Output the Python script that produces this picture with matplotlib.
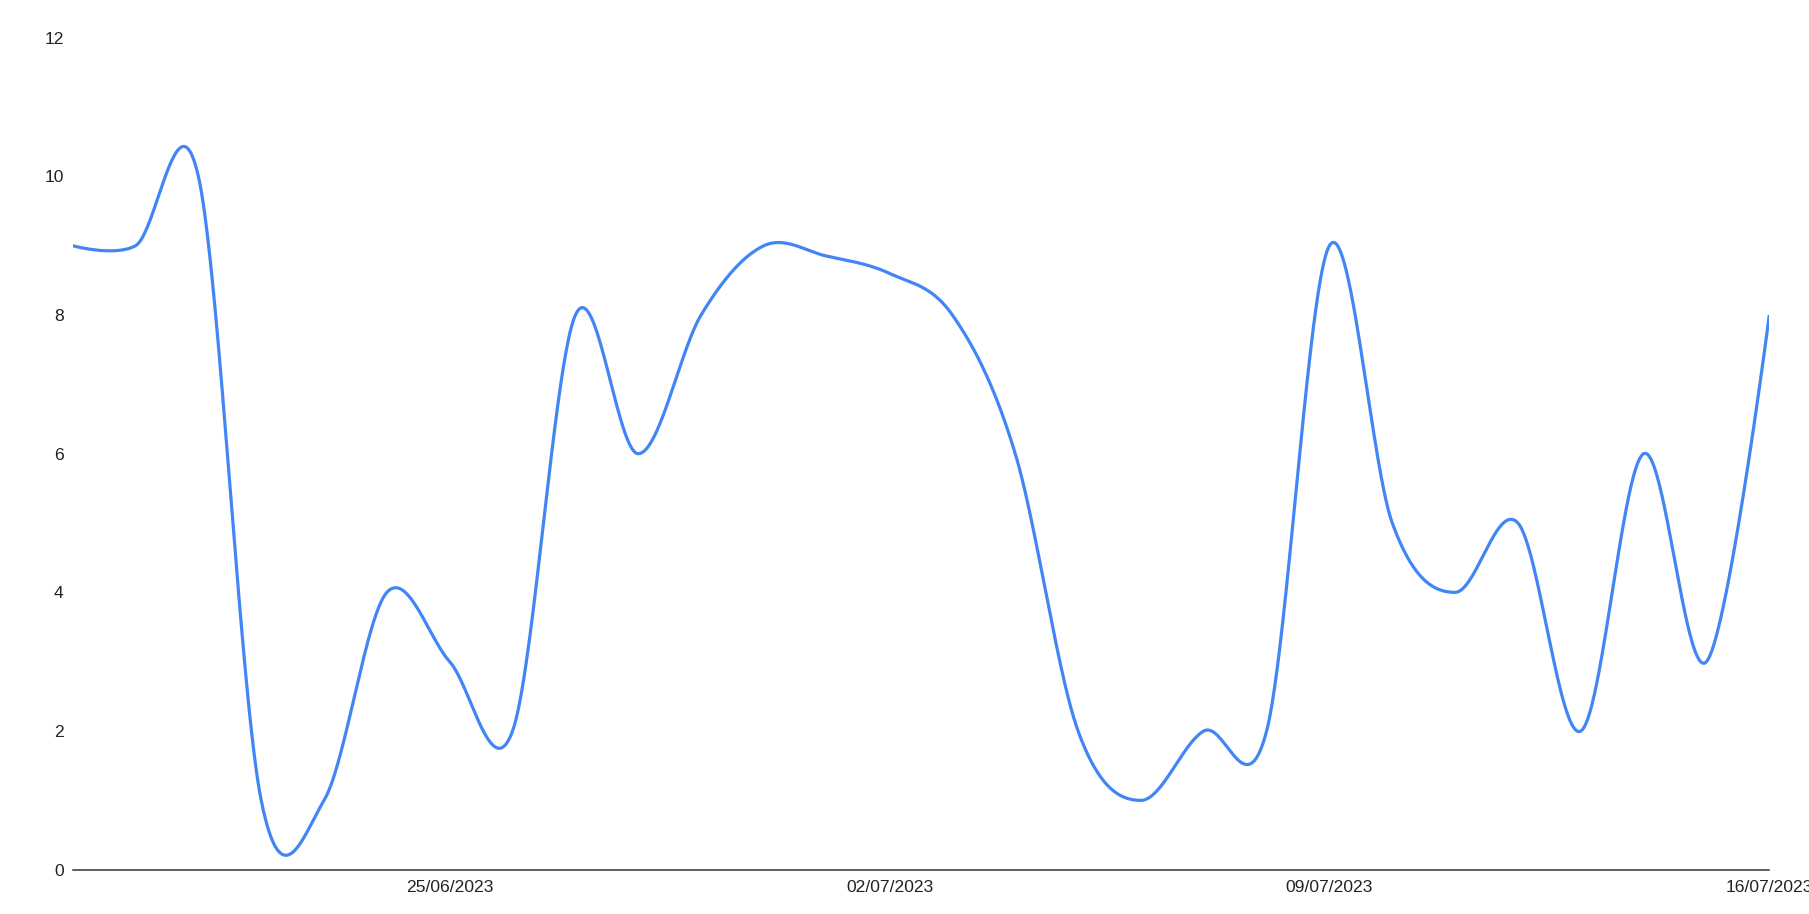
import numpy as np
import pandas as pd
import matplotlib
matplotlib.use("Agg")
import matplotlib.pyplot as plt
import matplotlib.dates as mdates

plt.rcParams["font.family"] = ["Liberation Sans", "DejaVu Sans"]
plt.rcParams["font.size"] = 12.6

# ---- data -------------------------------------------------------------
dates = ["2023-06-19", "2023-06-20", "2023-06-21", "2023-06-22", "2023-06-23",
         "2023-06-24", "2023-06-25", "2023-06-26", "2023-06-27", "2023-06-28",
         "2023-06-29", "2023-06-30", "2023-07-01", "2023-07-02", "2023-07-03",
         "2023-07-04", "2023-07-05", "2023-07-06", "2023-07-07", "2023-07-08",
         "2023-07-09", "2023-07-10", "2023-07-11", "2023-07-12", "2023-07-13",
         "2023-07-14", "2023-07-15", "2023-07-16"]
values = [9, 9, 10, 1, 1, 4, 3, 2, 8, 6, 8, 9, 8.85, 8.6, 8,
          6, 2, 1, 2, 2, 9, 5, 4, 5, 2, 6, 3, 8]
x_ticks = ["2023-06-25", "2023-07-02", "2023-07-09", "2023-07-16"]
y_ticks = [0, 2, 4, 6, 8, 10, 12]

# ---- figure -----------------------------------------------------------
W, H, DPI = 1809, 914, 100
fig = plt.figure(figsize=(W / DPI, H / DPI), dpi=DPI)
fig.patch.set_facecolor("white")
ax = fig.add_axes([72.7 / W, (H - 869.7) / H, (1769.3 - 72.7) / W, (869.7 - 37.7) / H])

xd = mdates.date2num(pd.to_datetime(dates))
yv = np.asarray(values, dtype=float)

# smooth curve (Catmull-Rom style Bezier through the points)
n = len(xd)
px, py = [], []
for i in range(n - 1):
    p0 = np.array([xd[i], yv[i]])
    p3 = np.array([xd[i + 1], yv[i + 1]])
    prev = np.array([xd[i - 1], yv[i - 1]]) if i > 0 else p0
    nxt = np.array([xd[i + 2], yv[i + 2]]) if i + 2 < n else p3
    c1 = p0 + (p3 - prev) / 6.0 if i > 0 else p0
    c2 = p3 - (nxt - p0) / 6.0 if i + 2 < n else p3
    s = np.linspace(0, 1, 80)[:, None]
    b = ((1 - s) ** 3) * p0 + 3 * ((1 - s) ** 2) * s * c1 + 3 * (1 - s) * s ** 2 * c2 + s ** 3 * p3
    px.extend(b[:, 0]); py.extend(b[:, 1])

ax.plot(px, py, color="#4285F4", lw=2.3, solid_capstyle="butt", solid_joinstyle="round", zorder=3)

ax.set_xlim(xd[0], xd[-1])
ax.set_ylim(0, 12)

for sp in ["top", "right", "left"]:
    ax.spines[sp].set_visible(False)
ax.spines["bottom"].set_color("#333333")
ax.spines["bottom"].set_linewidth(1.1)
ax.spines["bottom"].set_zorder(2)

ax.set_xticks(mdates.date2num(pd.to_datetime(x_ticks)))
ax.xaxis.set_major_formatter(mdates.DateFormatter("%d/%m/%Y"))
ax.set_yticks(y_ticks)
ax.set_yticklabels([str(v) for v in y_ticks])
ax.tick_params(axis="both", length=0, labelsize=12.6, labelcolor="#222222")
ax.tick_params(axis="x", pad=7.5)
ax.tick_params(axis="y", pad=6.5)
ax.grid(False)

fig.savefig("out.png", dpi=DPI, facecolor="white")
